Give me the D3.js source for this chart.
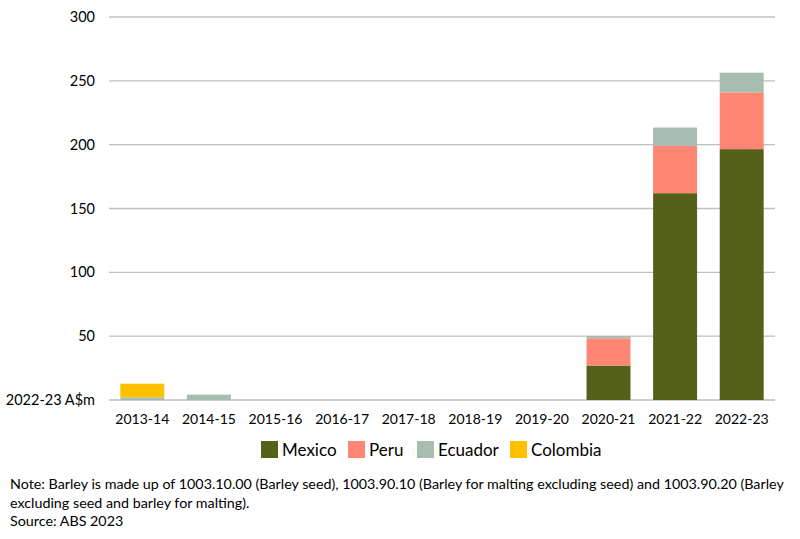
<!DOCTYPE html>
<html><head><meta charset="utf-8">
<script src="https://cdn.jsdelivr.net/npm/d3@7"></script>
<style>body{margin:0;background:#fff}svg{display:block;font-family:Lato,"Open Sans",sans-serif}</style>
</head><body><svg id="c" width="800" height="539"></svg>
<script>
const years = ["2013-14","2014-15","2015-16","2016-17","2017-18","2018-19","2019-20","2020-21","2021-22","2022-23"];
const seriesNames = ["Mexico","Peru","Ecuador","Colombia"];
const mexico   = [0,0,0,0,0,0,0,27,162,196.5];
const peru     = [0,0,0,0,0,0,0,21.3,37,44.5];
const ecuador  = [2.1,4.2,0,0,0,0,0,1.8,14.4,15.4];
const colombia = [10.7,0,0,0,0,0,0,0,0,0];
const yTicks = [0,50,100,150,200,250,300];
const yZeroLabel = "2022-23 A$m";
const colors = ["#556019","#FF8672","#A7BDB1","#FFC000"];
const noteLines = ["Note: Barley is made up of 1003.10.00 (Barley seed), 1003.90.10 (Barley for malting excluding seed) and 1003.90.20 (Barley",
 "excluding seed and barley for malting).","Source: ABS 2023"];

const rows = years.map((y,i)=>({year:y,Mexico:mexico[i],Peru:peru[i],Ecuador:ecuador[i],Colombia:colombia[i]}));
const stacked = d3.stack().keys(seriesNames)(rows);
const svg = d3.select("#c");
const x = d3.scaleBand().domain(years).range([109,775]).paddingInner(0.34).paddingOuter(0.17);
const y = d3.scaleLinear().domain([0,300]).range([400,17]);
const color = d3.scaleOrdinal().domain(seriesNames).range(colors);

// gridlines
svg.append("g").selectAll("line").data(yTicks).join("line")
  .attr("x1",109).attr("x2",775).attr("y1",d=>y(d)).attr("y2",d=>y(d))
  .attr("stroke","#BFBFBF").attr("stroke-width",1.3);

// y labels
const yAxis = d3.axisLeft(y).tickValues(yTicks).tickSize(0).tickPadding(0)
  .tickFormat(d=>d===0?yZeroLabel:d);
const gy = svg.append("g").attr("transform","translate(95,0)").call(yAxis);
gy.select(".domain").remove();
gy.selectAll("text").attr("font-size",14.5).attr("fill","#000").attr("font-family","Lato,sans-serif");

// bars
svg.append("g").selectAll("g").data(stacked).join("g").attr("fill",d=>color(d.key))
  .selectAll("rect").data(d=>d).join("rect")
  .attr("x",d=>x(d.data.year)).attr("width",x.bandwidth())
  .attr("y",d=>y(d[1])).attr("height",d=>y(d[0])-y(d[1]));

// x labels
const xAxis = d3.axisBottom(x).tickSize(0).tickPadding(0);
const gx = svg.append("g").attr("transform","translate(0,414)").call(xAxis);
gx.select(".domain").remove();
gx.selectAll("text").attr("font-size",14).attr("fill","#000").attr("font-family","Lato,sans-serif");

// legend
const legX = [261,348,417,510];
const lg = svg.append("g").selectAll("g").data(seriesNames).join("g")
  .attr("transform",(d,i)=>`translate(${legX[i]},441)`);
lg.append("rect").attr("width",17).attr("height",17).attr("fill",d=>color(d));
lg.append("text").attr("x",21).attr("y",15).attr("font-size",17).text(d=>d);

// notes
svg.append("g").selectAll("text").data(noteLines).join("text")
  .attr("x",10).attr("y",(d,i)=>489+i*18.5).attr("font-size",14.3).text(d=>d);
</script></body></html>
